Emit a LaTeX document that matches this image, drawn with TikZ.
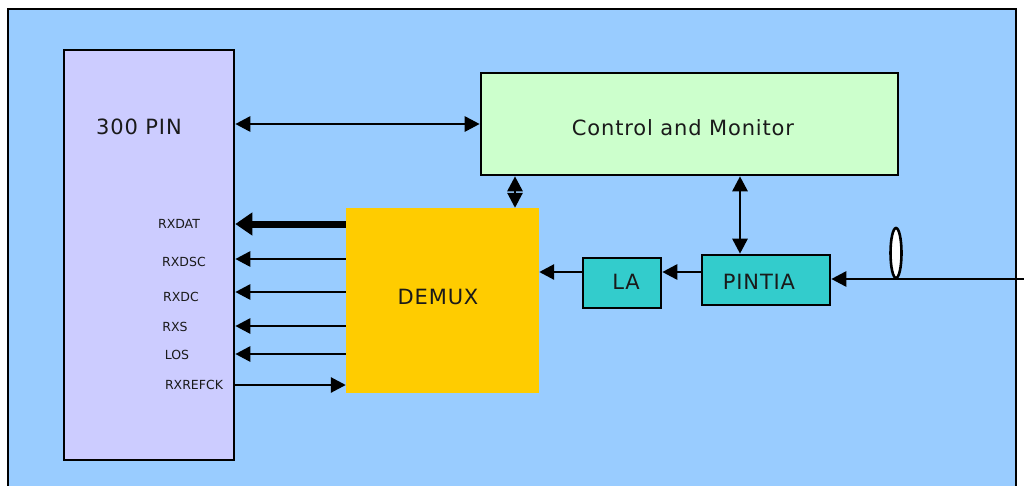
\documentclass[tikz,border=0pt]{standalone}
\usepackage{fontspec}
\setmainfont{DejaVu Sans}
\newfontfamily\lblfont[LetterSpace=4]{DejaVu Sans}
\newfontfamily\sigfont{DejaVu Sans}
\usetikzlibrary{arrows.meta,shapes.geometric}
\definecolor{bgblue}{HTML}{99CCFF}
\definecolor{pinbox}{HTML}{CCCCFF}
\definecolor{cmbox}{HTML}{CCFFCC}
\definecolor{demux}{HTML}{FFCC00}
\definecolor{teal}{HTML}{33CCCC}
\definecolor{txt}{HTML}{1A1A1A}
\tikzset{
  blk/.style={draw=black,line width=2.6pt,inner sep=0pt},
  conn/.style={line width=2.8pt,-{Triangle[length=15pt,width=15pt]}},
  bconn/.style={line width=2.8pt,{Triangle[length=15pt,width=15pt]}-{Triangle[length=15pt,width=15pt]}},
  sig/.style={font=\sigfont\fontsize{12.5}{14}\selectfont,text=txt,anchor=center,inner sep=0pt},
  big/.style={font=\lblfont\fontsize{21}{24}\selectfont,text=txt,inner sep=0pt}
}
\begin{document}
\begin{tikzpicture}[x=1pt,y=-1pt]
\useasboundingbox (0,0) rectangle (1024,485);
\fill[white] (0,0) rectangle (1024,485);
\draw[fill=bgblue,line width=2.6pt] (8,9) rectangle (1016,495);
% blocks
\node[blk,fill=pinbox,minimum width=170pt,minimum height=410pt] (pin) at (149,255) {};
\node[big,anchor=center] (pinlbl) at (139,127) {300 PIN};
\node[blk,fill=cmbox,minimum width=417pt,minimum height=102pt] (cm) at (689.5,124) {};
\node[big] (cmlbl) at (683,128) {Control and Monitor};
\node[fill=demux,minimum width=193pt,minimum height=185pt,inner sep=0pt] (dm) at (442.5,300.5) {};
\node[big] (dmlbl) at (438,297) {DEMUX};
\node[blk,fill=teal,minimum width=78pt,minimum height=50pt] (la) at (622,283) {};
\node[big] (lalbl) at (626,282) {LA};
\node[blk,fill=teal,minimum width=128pt,minimum height=50pt] (pt) at (766,280) {};
\node[big] (ptlbl) at (759,282) {PINTIA};
% signal labels
\node[sig] (l1) at (179,224) {RXDAT};
\node[sig] (l2) at (184,262) {RXDSC};
\node[sig] (l3) at (181,297) {RXDC};
\node[sig] (l4) at (175,327) {RXS};
\node[sig] (l5) at (177,355) {LOS};
\node[sig] (l6) at (194,385) {RXREFCK};
% connectors
\draw[bconn] (pin.east |- 0,124) -- (cm.west |- 0,124);
\draw[bconn] (cm.south -| 515,0) -- (dm.north -| 515,0);
\draw[bconn] (cm.south -| 740,0) -- (pt.north -| 740,0);
\draw[conn] (pt.west |- 0,272) -- (la.east |- 0,272);
\draw[conn] (la.west |- 0,272) -- (dm.east |- 0,272);
\coordinate (fib) at (1024,279);
\draw[conn] (fib) -- (pt.east |- fib);
\node[ellipse,draw=black,line width=2.6pt,fill=white,minimum width=11pt,minimum height=50pt,inner sep=0pt] (lens) at (896,253) {};
\draw[line width=7pt,-{Triangle[length=17pt,width=22pt]}] (dm.west |- 0,224) -- (pin.east |- 0,224);
\draw[conn] (dm.west |- 0,259) -- (pin.east |- 0,259);
\draw[conn] (dm.west |- 0,292) -- (pin.east |- 0,292);
\draw[conn] (dm.west |- 0,326) -- (pin.east |- 0,326);
\draw[conn] (dm.west |- 0,354) -- (pin.east |- 0,354);
\draw[conn] (pin.east |- 0,385) -- (dm.west |- 0,385);
\end{tikzpicture}
\end{document}
